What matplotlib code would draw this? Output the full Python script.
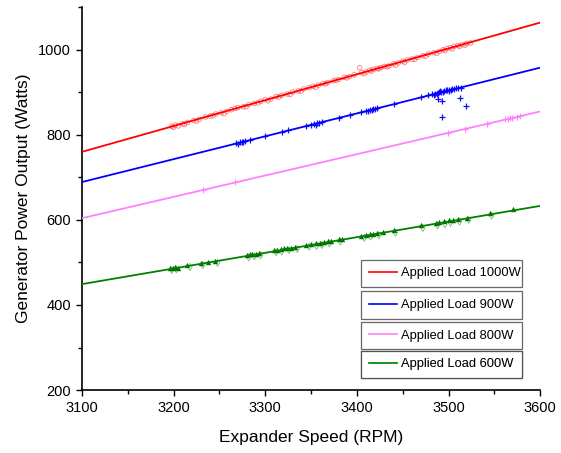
import matplotlib.pyplot as plt
from matplotlib.ticker import MultipleLocator
from matplotlib.lines import Line2D

plt.rcParams['font.family'] = ['Liberation Sans', 'DejaVu Sans']

# fitted lines (end points)
fit_x = [3100, 3600]
fit_1000 = [760, 1064]
fit_900 = [689, 958]
fit_800 = [604, 855]
fit_600 = [449, 633]

# measured points, Applied Load 1000W
x_1000 = [3198, 3202, 3205, 3210, 3215, 3222, 3228, 3235, 3240, 3246, 3252, 3258,
          3263, 3270, 3276, 3282, 3288, 3295, 3300, 3306, 3312, 3318, 3324, 3330,
          3336, 3342, 3348, 3352, 3358, 3363, 3368, 3374, 3380, 3386, 3392, 3397,
          3403, 3405, 3410, 3414, 3418, 3422, 3426, 3430, 3435, 3440, 3445, 3450,
          3455, 3460, 3466, 3472, 3478, 3484, 3490, 3494, 3498, 3502, 3506, 3510,
          3515, 3520, 3524,
          3200, 3212, 3225, 3243, 3255, 3267, 3279, 3292, 3303, 3315, 3327, 3339,
          3355, 3366, 3377, 3389, 3408, 3416, 3424, 3433, 3442, 3452, 3463, 3475,
          3487, 3496, 3504, 3512, 3518]
y_1000 = [820, 823, 821, 826, 829, 834, 836, 842, 844, 849, 852, 855,
          859, 864, 866, 871, 874, 879, 883, 884, 890, 893, 896, 901,
          903, 908, 911, 914, 917, 921, 923, 927, 930, 935, 937, 941,
          958, 946, 948, 952, 954, 956, 958, 961, 962, 967, 969, 973,
          976, 978, 982, 986, 990, 993, 996, 1000, 1003, 1005, 1008, 1010,
          1012, 1015, 1016,
          818, 825, 832, 845, 850, 862, 866, 875, 880, 889, 895, 903,
          912, 920, 928, 934, 944, 950, 955, 960, 964, 970, 978, 985,
          992, 998, 1002, 1008, 1011]

# Applied Load 900W
x_900 = [3268, 3272, 3275, 3278, 3283, 3300, 3318, 3325, 3345, 3350, 3353, 3357,
         3362, 3380, 3392, 3405, 3410, 3414, 3418, 3422, 3440, 3470, 3478, 3482,
         3485, 3488, 3490, 3492, 3495, 3498, 3500, 3503, 3506, 3510, 3514,
         3270, 3276, 3355, 3359, 3412, 3416, 3420, 3484, 3487, 3491, 3494, 3497,
         3501, 3504, 3508,
         3488, 3493, 3512, 3519, 3493]
y_900 = [780, 782, 783, 785, 788, 797, 807, 811, 821, 824, 825, 828,
         830, 840, 846, 853, 856, 858, 860, 862, 872, 888, 893, 895,
         897, 899, 900, 901, 903, 905, 904, 906, 908, 910, 911,
         778, 784, 823, 829, 855, 859, 861, 894, 896, 902, 900, 906,
         906, 907, 909,
         885, 880, 886, 868, 842]

# Applied Load 800W
x_800 = [3232, 3267, 3499, 3518, 3542, 3562, 3565, 3567, 3569, 3575, 3578]
y_800 = [670, 688, 804, 814, 826, 837, 838, 840, 840, 843, 845]

# Applied Load 600W (two marker sets)
x_600a = [3196, 3199, 3202, 3205, 3215, 3230, 3238, 3245, 3280, 3283, 3286, 3290,
          3293, 3310, 3313, 3317, 3320, 3324, 3328, 3333, 3345, 3350, 3355, 3360,
          3364, 3368, 3372, 3380, 3384, 3405, 3410, 3414, 3418, 3422, 3428, 3440,
          3470, 3486, 3490, 3495, 3500, 3505, 3510, 3520, 3545, 3570]
y_600a = [487, 488, 489, 488, 493, 498, 501, 504, 517, 519, 520, 521,
          522, 529, 530, 531, 533, 534, 535, 537, 541, 543, 545, 546,
          548, 550, 551, 554, 556, 563, 565, 567, 568, 569, 571, 576,
          587, 593, 595, 597, 599, 600, 602, 605, 616, 626]
x_600b = [3198, 3203, 3218, 3232, 3248, 3282, 3288, 3295, 3312, 3318, 3326, 3335,
          3348, 3356, 3362, 3370, 3382, 3408, 3415, 3424, 3442, 3472, 3488, 3496,
          3502, 3512, 3522, 3547]
y_600b = [482, 484, 489, 494, 499, 512, 514, 517, 524, 526, 529, 532,
          537, 539, 541, 545, 549, 558, 561, 564, 570, 581, 587, 590,
          593, 596, 600, 610]

series = [
    ('Applied Load 1000W', '#ff0000', fit_1000),
    ('Applied Load 900W', '#0000ff', fit_900),
    ('Applied Load 800W', '#ff80ff', fit_800),
    ('Applied Load 600W', '#008000', fit_600),
]

fig = plt.figure(figsize=(5.61, 4.53), dpi=100)
ax = fig.add_axes([0.146, 0.139, 0.817, 0.845])

# scatter markers
ax.scatter(x_1000, y_1000, s=11, facecolors='none', edgecolors='#ff5050',
           linewidths=0.6, alpha=0.75, zorder=2)
ax.scatter(x_900, y_900, s=18, marker='+', color='#1010ff', linewidths=0.9,
           zorder=2)
ax.scatter(x_800, y_800, s=16, marker='+', color='#ff80ff', linewidths=0.8,
           zorder=2)
ax.scatter(x_600b, y_600b, s=13, marker='d', facecolors='none',
           edgecolors='#50b050', linewidths=0.6, alpha=0.8, zorder=2)
ax.scatter(x_600a, y_600a, s=15, marker='^', color='#007000', linewidths=0,
           zorder=2)

# fit lines
for name, col, fit in series:
    ax.plot(fit_x, fit, color=col, lw=1.3, zorder=3)

ax.set_xlim(3100, 3600)
ax.set_ylim(200, 1100)
ax.xaxis.set_major_locator(MultipleLocator(100))
ax.xaxis.set_minor_locator(MultipleLocator(50))
ax.yaxis.set_major_locator(MultipleLocator(200))
ax.yaxis.set_minor_locator(MultipleLocator(100))
ax.tick_params(which='major', direction='out', length=4.5, width=1, labelsize=10.5)
ax.tick_params(which='minor', direction='out', length=3, width=1)
ax.spines['top'].set_visible(False)
ax.spines['right'].set_visible(False)
ax.spines['left'].set_linewidth(1.2)
ax.spines['bottom'].set_linewidth(1.2)

ax.set_xlabel('Expander Speed (RPM)', fontsize=12.5, labelpad=11)
ax.set_ylabel('Generator Power Output (Watts)', fontsize=12.5, labelpad=5)

# one boxed legend per series, stacked, same width
legend_y = [0.305, 0.222, 0.142, 0.067]
for (name, col, fit), ly in zip(series, legend_y):
    h = Line2D([0], [0], color=col, lw=1.2)
    leg = ax.legend([h], [name], loc='center left', mode='expand',
                    bbox_to_anchor=(0.609, ly, 0.352, 0.0),
                    frameon=True, fancybox=False, fontsize=9.3,
                    handlelength=2.2, handletextpad=0.3, borderpad=0.6,
                    borderaxespad=0.0)
    leg.get_frame().set_edgecolor('#404040')
    leg.get_frame().set_linewidth(0.9)
    ax.add_artist(leg)

fig.savefig('out.png', dpi=100)
